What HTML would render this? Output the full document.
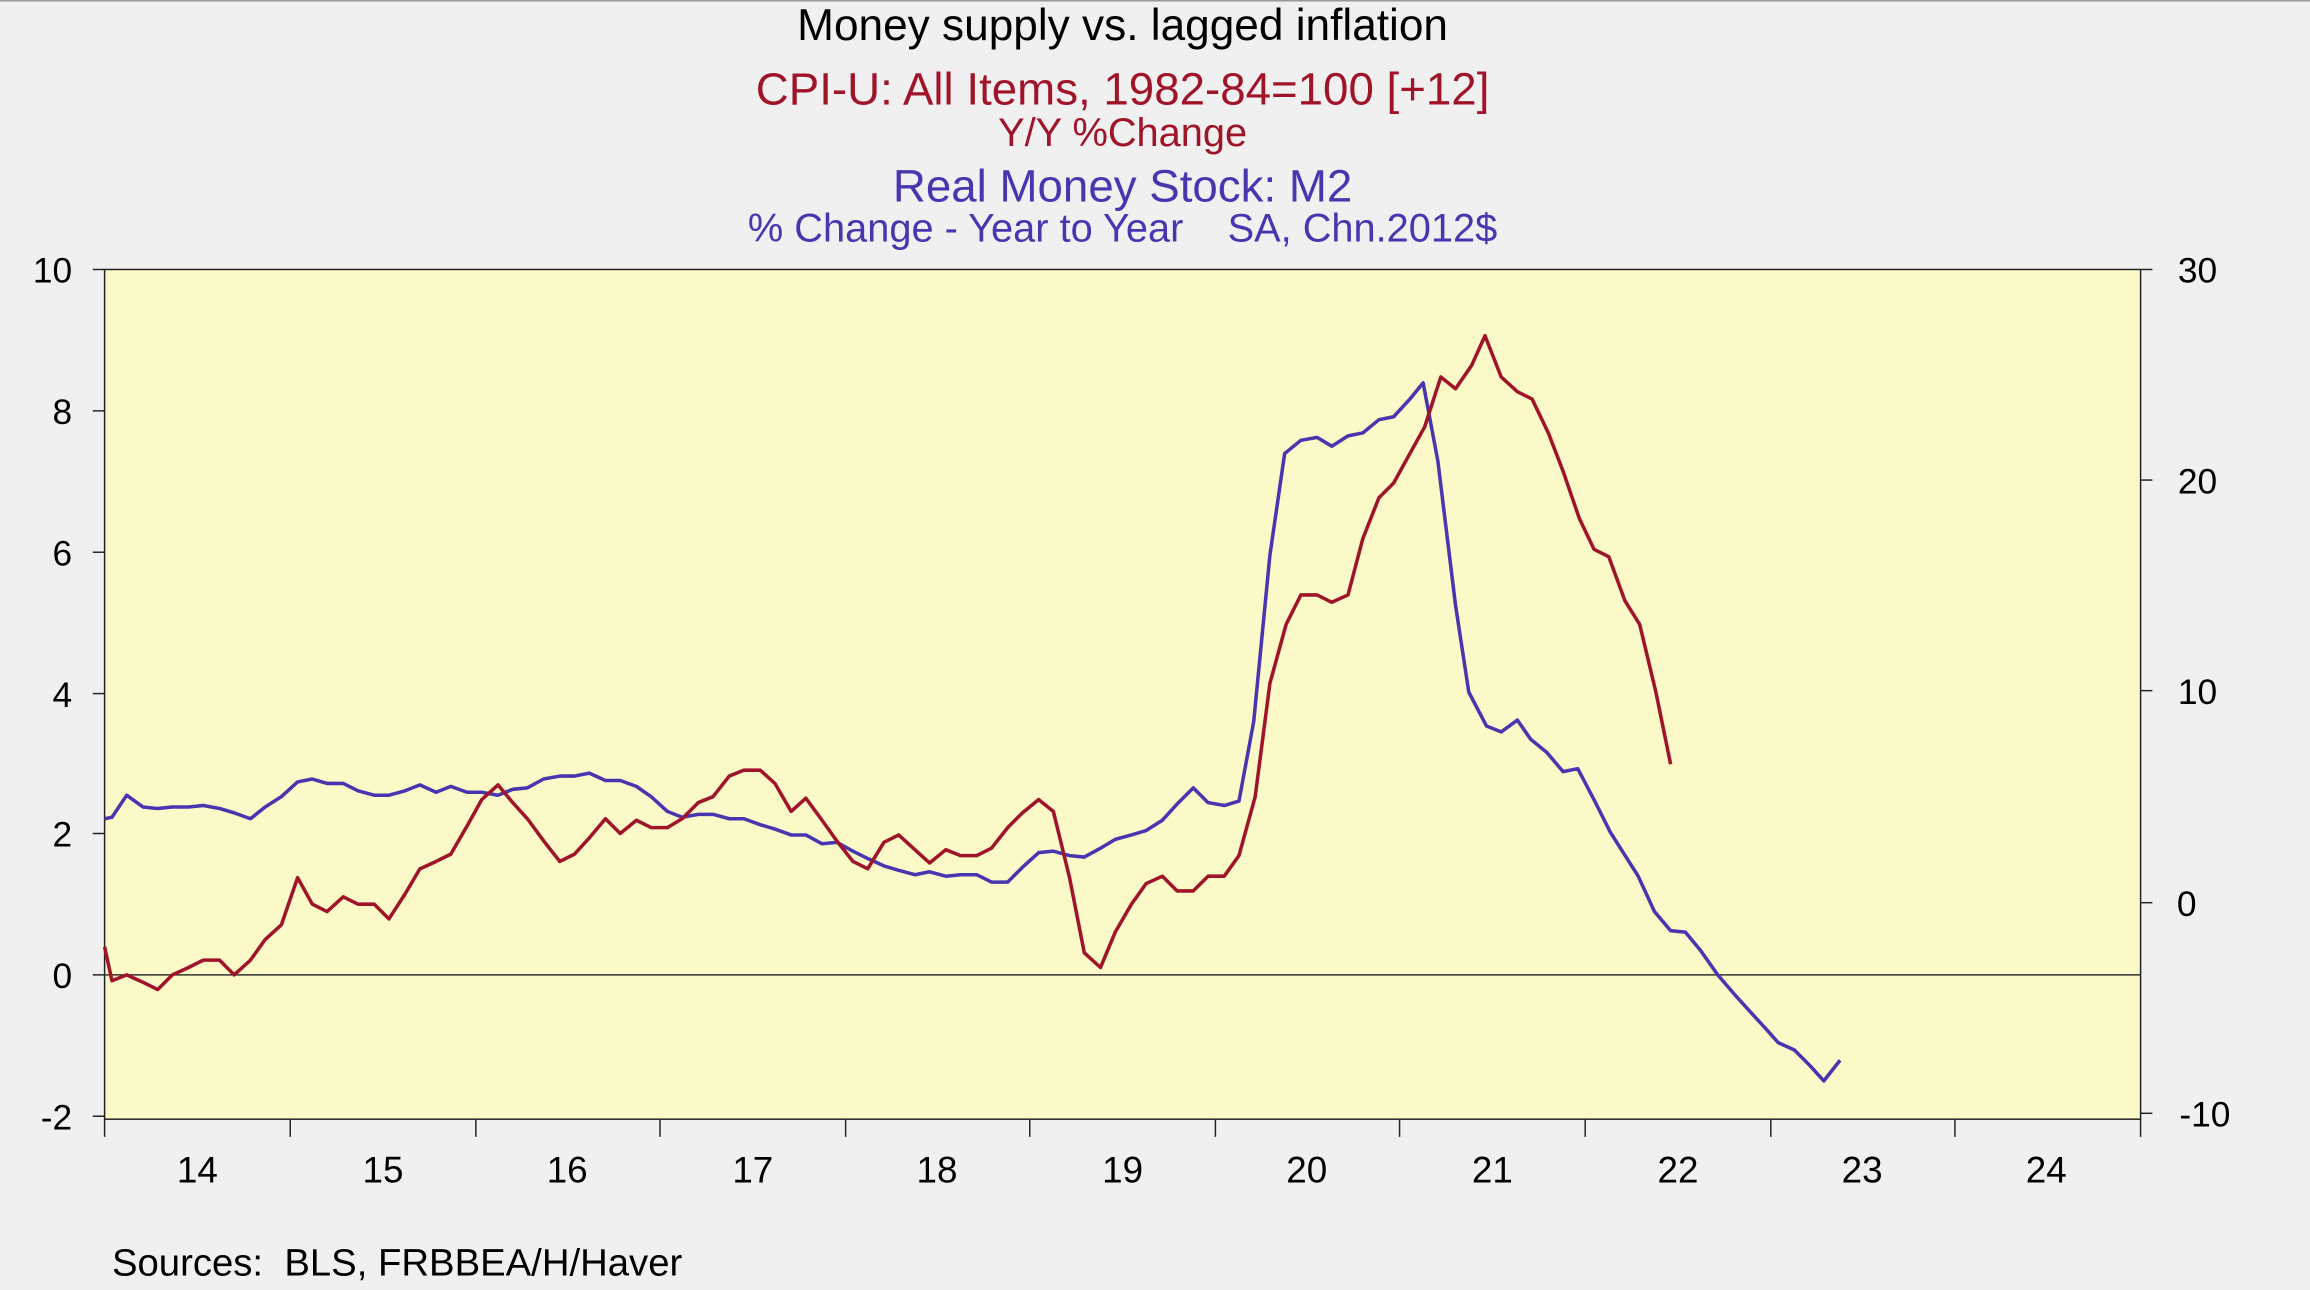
<!DOCTYPE html>
<html><head><meta charset="utf-8"><style>
html,body{margin:0;padding:0;background:#f0f0f0;}
svg{display:block;}
text{font-family:"Liberation Sans",Arial,sans-serif;}
</style></head><body>
<svg width="2310" height="1290" viewBox="0 0 1568 876" preserveAspectRatio="none" xmlns="http://www.w3.org/2000/svg">
<rect x="0" y="0" width="1568" height="876" fill="#f0f0f0"/>
<line x1="0" y1="0.5" x2="1568" y2="0.5" stroke="#999" stroke-width="1"/>
<text x="762" y="27" font-size="30" text-anchor="middle" fill="#000">Money supply vs. lagged inflation</text>
<text x="762" y="71" font-size="31" text-anchor="middle" fill="#a0142a">CPI-U: All Items, 1982-84=100 [+12]</text>
<text x="762" y="99" font-size="27" text-anchor="middle" fill="#a0142a">Y/Y %Change</text>
<text x="762" y="137" font-size="31" text-anchor="middle" fill="#4a35b0">Real Money Stock: M2</text>
<text x="762" y="164" font-size="27" text-anchor="middle" fill="#4a35b0" xml:space="preserve">% Change - Year to Year    SA, Chn.2012$</text>
<rect x="71" y="183" width="1382" height="577" fill="#fbf9c8" stroke="#222" stroke-width="1"/>
<line x1="71" y1="662" x2="1453" y2="662" stroke="#333" stroke-width="1"/>
<g stroke="#222" stroke-width="1">
<line x1="63" y1="183" x2="71" y2="183"/><line x1="63" y1="279" x2="71" y2="279"/><line x1="63" y1="375" x2="71" y2="375"/><line x1="63" y1="471" x2="71" y2="471"/><line x1="63" y1="566" x2="71" y2="566"/><line x1="63" y1="662" x2="71" y2="662"/><line x1="63" y1="758" x2="71" y2="758"/>
<line x1="1453" y1="183" x2="1461" y2="183"/><line x1="1453" y1="326" x2="1461" y2="326"/><line x1="1453" y1="469" x2="1461" y2="469"/><line x1="1453" y1="613" x2="1461" y2="613"/><line x1="1453" y1="756" x2="1461" y2="756"/>
<line x1="71" y1="760" x2="71" y2="772"/><line x1="197" y1="760" x2="197" y2="772"/><line x1="323" y1="760" x2="323" y2="772"/><line x1="448" y1="760" x2="448" y2="772"/><line x1="574" y1="760" x2="574" y2="772"/><line x1="699" y1="760" x2="699" y2="772"/><line x1="825" y1="760" x2="825" y2="772"/><line x1="950" y1="760" x2="950" y2="772"/><line x1="1076" y1="760" x2="1076" y2="772"/><line x1="1202" y1="760" x2="1202" y2="772"/><line x1="1327" y1="760" x2="1327" y2="772"/><line x1="1453" y1="760" x2="1453" y2="772"/>
</g>
<g font-size="24" fill="#000" text-anchor="end">
<text x="49" y="192">10</text><text x="49" y="288">8</text><text x="49" y="384">6</text><text x="49" y="480">4</text><text x="49" y="575">2</text><text x="49" y="671">0</text><text x="49" y="767">-2</text>
</g>
<g font-size="24" fill="#000" text-anchor="end">
<text x="1505" y="192">30</text><text x="1505" y="335">20</text><text x="1505" y="478">10</text><text x="1491" y="622">0</text><text x="1514" y="765">-10</text>
</g>
<g font-size="25" fill="#000" text-anchor="middle">
<text x="134" y="803">14</text><text x="260" y="803">15</text><text x="385" y="803">16</text><text x="511" y="803">17</text><text x="636" y="803">18</text><text x="762" y="803">19</text><text x="887" y="803">20</text><text x="1013" y="803">21</text><text x="1139" y="803">22</text><text x="1264" y="803">23</text><text x="1389" y="803">24</text>
</g>
<text x="76" y="866" font-size="26" fill="#000" xml:space="preserve">Sources:  BLS, FRBBEA/H/Haver</text>
<polyline fill="none" stroke="#4a35b0" stroke-width="2.4" stroke-linejoin="round" points="71,556 76,555 86,540 97,548 107,549 117,548 128,548 138,547 149,549 159,552 170,556 180,548 191,541 202,531 212,529 222,532 233,532 243,537 254,540 264,540 275,537 285,533 296,538 306,534 317,538 327,538 338,540 348,536 358,535 369,529 380,527 390,527 400,525 411,530 421,530 432,534 442,541 453,551 463,555 474,553 484,553 495,556 505,556 516,560 526,563 537,567 547,567 558,573 568,572 579,578 589,583 600,588 610,591 621,594 631,592 642,595 652,594 663,594 673,599 684,599 694,589 705,579 715,578 726,581 736,582 747,576 757,570 768,567 778,564 789,557 799,546 810,535 820,545 831,547 841,544 851,490 862,377 872,308 883,299 894,297 904,303 915,296 925,294 936,285 946,283 957,271 966,260 976,313 988,411 997,470 1009,493 1019,497 1030,489 1039,502 1050,511 1061,524 1071,522 1083,545 1093,565 1112,595 1123,619 1134,632 1144,633 1154,645 1166,662 1178,676 1188,687 1199,699 1207,708 1218,713 1228,723 1238,734 1249,720"/>
<polyline fill="none" stroke="#a0142a" stroke-width="2.4" stroke-linejoin="round" points="71,643 76,666 86,662 97,667 107,672 117,662 128,657 138,652 149,652 159,662 170,652 180,638 191,628 202,596 212,614 222,619 233,609 243,614 254,614 264,624 275,607 285,590 296,585 306,580 317,561 327,543 338,533 348,545 358,556 369,571 380,585 390,580 400,569 411,556 421,566 432,557 442,562 453,562 463,556 474,545 484,541 495,527 505,523 516,523 526,532 537,551 547,542 558,557 568,571 579,585 589,590 600,572 610,567 621,577 631,586 642,577 652,581 663,581 673,576 684,562 694,552 705,543 715,551 726,596 736,647 747,657 757,633 768,614 778,600 789,595 799,605 810,605 820,595 831,595 841,581 852,541 862,464 873,424 883,404 894,404 904,409 915,404 925,366 936,338 946,328 957,308 967,290 978,256 988,264 999,248 1008,228 1019,256 1030,266 1040,271 1051,294 1061,320 1072,352 1082,373 1092,378 1103,408 1113,424 1124,470 1134,519"/>
</svg>
</body></html>
